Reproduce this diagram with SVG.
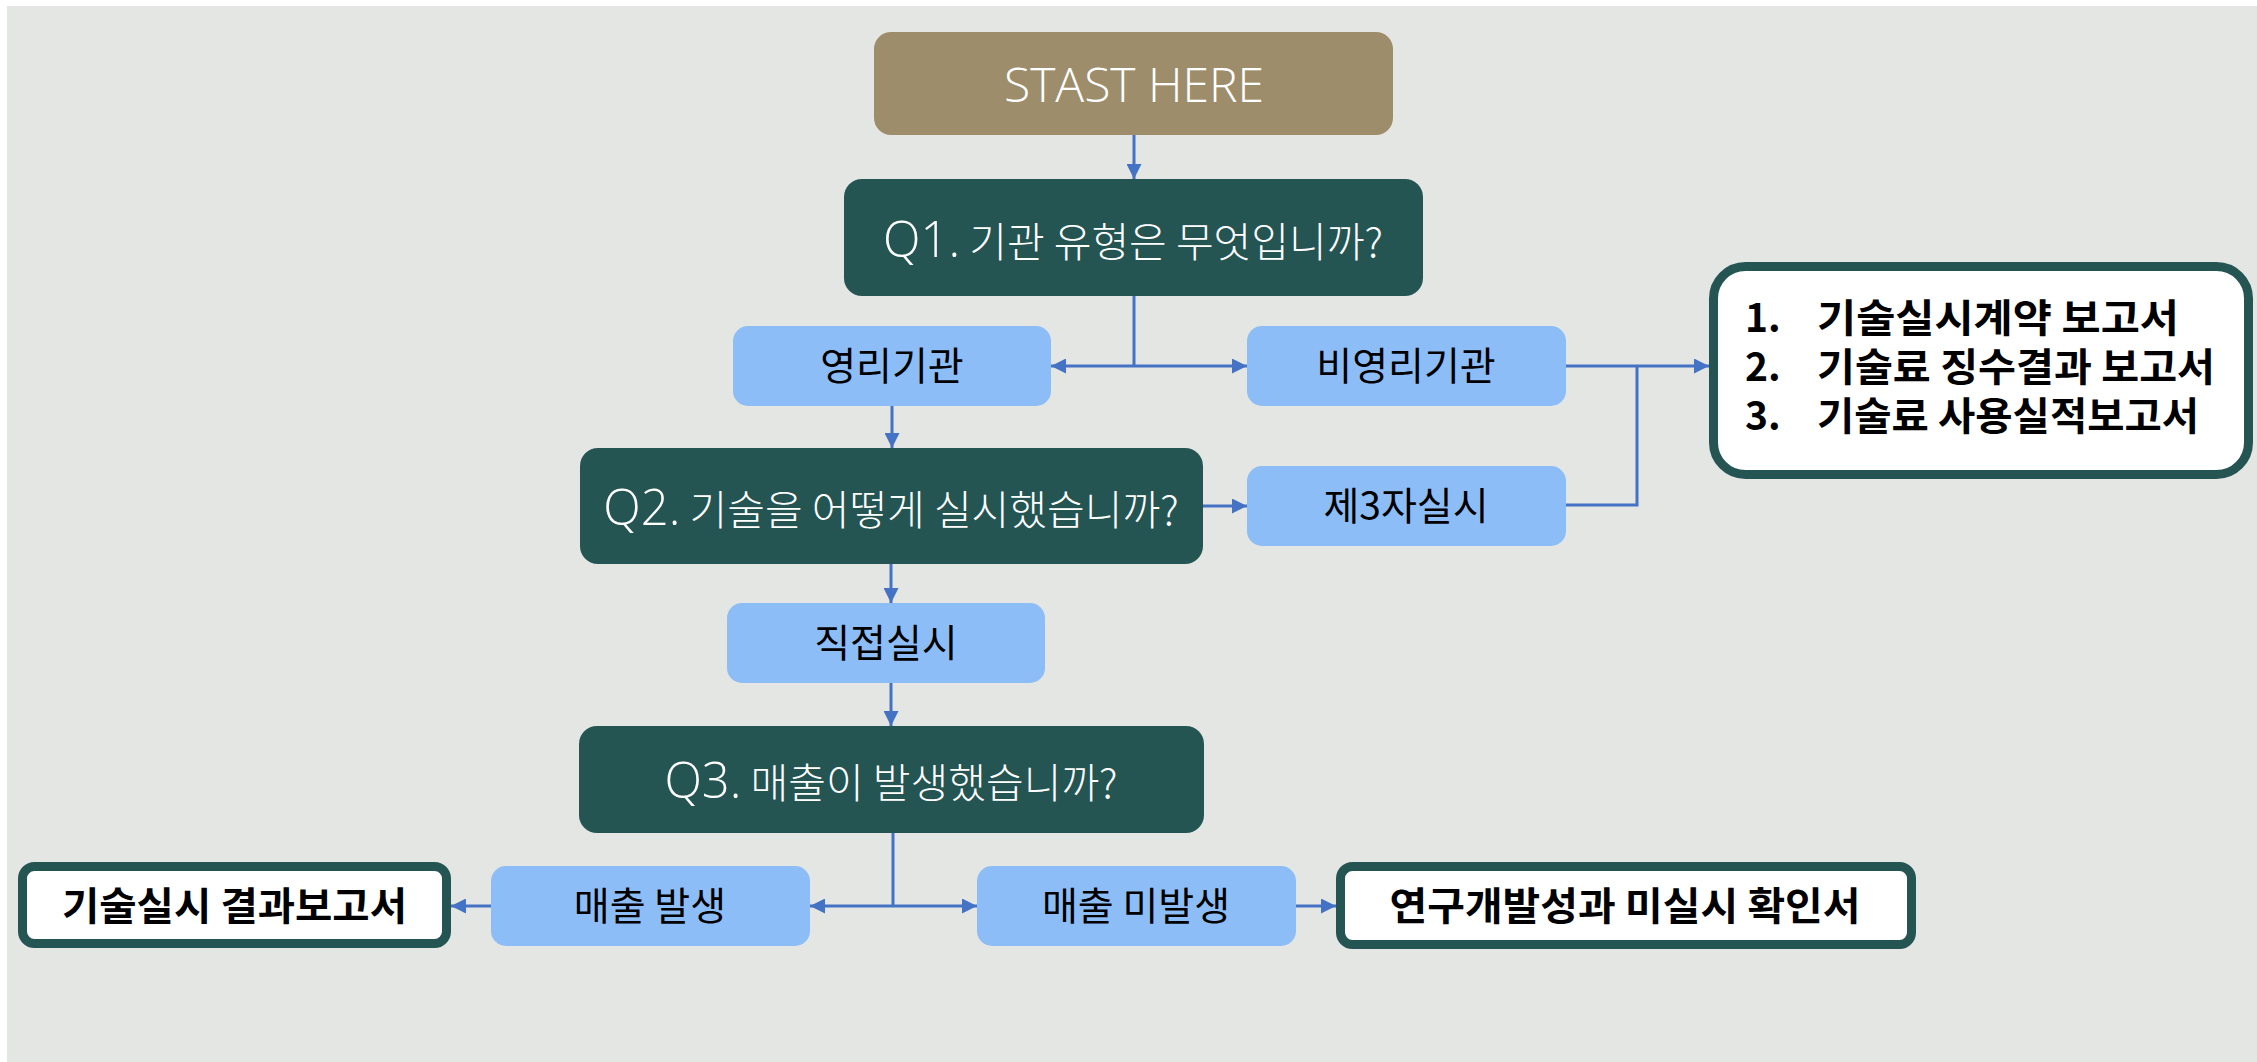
<svg xmlns="http://www.w3.org/2000/svg" width="2257" height="1062" viewBox="0 0 2257 1062">
<style>
.bg{fill:#E4E6E3}
.start{fill:#9E8D6B}
.q{fill:#245553}
.opt{fill:#8DBDF7}
.res{fill:#FFFFFF;stroke:#245553;stroke-width:9}
.wt{fill:#FFFFFF;font-family:"Open Sans","Noto Sans CJK KR",sans-serif;font-weight:300;text-anchor:middle}
.lat{font-size:49px}
.kr{font-family:"Noto Sans CJK KR",sans-serif;font-size:41px}
.ot{fill:#000000;font-family:"Noto Sans CJK KR",sans-serif;font-size:39px;text-anchor:middle}
.bt{fill:#000000;font-family:"Noto Sans CJK KR",sans-serif;font-size:39px;font-weight:700}
.con{fill:none;stroke:#4472C4;stroke-width:3}
</style>
<defs>
<marker id="ah" viewBox="0 0 15 15" refX="15" refY="7.5" markerWidth="15" markerHeight="15" markerUnits="userSpaceOnUse" orient="auto-start-reverse">
<path d="M0,0 L15,7.5 L0,15 z" fill="#4472C4"/>
</marker>
</defs>
<rect x="0" y="0" width="2257" height="1062" fill="#FFFFFF"/>
<rect class="bg" x="7" y="6" width="2250" height="1056"/>

<g id="connectors">
<path class="con" d="M1134,135 V179" marker-end="url(#ah)"/>
<path class="con" d="M1134,296 V366"/>
<path class="con" d="M1051,366 H1247" marker-start="url(#ah)" marker-end="url(#ah)"/>
<path class="con" d="M892,406 V448" marker-end="url(#ah)"/>
<path class="con" d="M1203,506 H1247" marker-end="url(#ah)"/>
<path class="con" d="M1566,366 H1709" marker-end="url(#ah)"/>
<path class="con" d="M1566,505 H1637 V366"/>
<path class="con" d="M891,564 V603" marker-end="url(#ah)"/>
<path class="con" d="M891,683 V726" marker-end="url(#ah)"/>
<path class="con" d="M893,833 V906"/>
<path class="con" d="M810,906 H977" marker-start="url(#ah)" marker-end="url(#ah)"/>
<path class="con" d="M491,906 H451" marker-end="url(#ah)"/>
<path class="con" d="M1296,906 H1336" marker-end="url(#ah)"/>
</g>

<g id="start">
<rect class="start" x="874" y="32" width="519" height="103" rx="17"/>
<text class="wt" x="1134" y="102" font-size="48">STAST HERE</text>
</g>

<g id="q1">
<rect class="q" x="844" y="179" width="579" height="117" rx="18"/>
<text class="wt" x="1133" y="257"><tspan class="lat">Q1.</tspan><tspan class="kr"> 기관 유형은 무엇입니까?</tspan></text>
</g>

<g id="profit">
<rect class="opt" x="733" y="326" width="318" height="80" rx="15"/>
<text class="ot" x="892" y="380">영리기관</text>
</g>

<g id="nonprofit">
<rect class="opt" x="1247" y="326" width="319" height="80" rx="15"/>
<text class="ot" x="1406" y="380">비영리기관</text>
</g>

<g id="q2">
<rect class="q" x="580" y="448" width="623" height="116" rx="18"/>
<text class="wt" x="891" y="525"><tspan class="lat">Q2.</tspan><tspan class="kr"> 기술을 어떻게 실시했습니까?</tspan></text>
</g>

<g id="third">
<rect class="opt" x="1247" y="466" width="319" height="80" rx="15"/>
<text class="ot" x="1406" y="520">제3자실시</text>
</g>

<g id="reports">
<rect class="res" x="1713.5" y="266.5" width="535" height="208" rx="32"/>
<text class="bt"><tspan x="1745" y="332">1.</tspan><tspan x="1817" y="332" textLength="362" lengthAdjust="spacingAndGlyphs">기술실시계약 보고서</tspan><tspan x="1745" y="381">2.</tspan><tspan x="1817" y="381" textLength="398" lengthAdjust="spacingAndGlyphs">기술료 징수결과 보고서</tspan><tspan x="1745" y="430">3.</tspan><tspan x="1817" y="430" textLength="382" lengthAdjust="spacingAndGlyphs">기술료 사용실적보고서</tspan></text>
</g>

<g id="direct">
<rect class="opt" x="727" y="603" width="318" height="80" rx="15"/>
<text class="ot" x="886" y="657">직접실시</text>
</g>

<g id="q3">
<rect class="q" x="579" y="726" width="625" height="107" rx="18"/>
<text class="wt" x="891" y="798"><tspan class="lat">Q3.</tspan><tspan class="kr"> 매출이 발생했습니까?</tspan></text>
</g>

<g id="sales">
<rect class="opt" x="491" y="866" width="319" height="80" rx="15"/>
<text class="ot" x="650" y="920">매출 발생</text>
</g>

<g id="nosales">
<rect class="opt" x="977" y="866" width="319" height="80" rx="15"/>
<text class="ot" x="1136" y="920">매출 미발생</text>
</g>

<g id="result-report">
<rect class="res" x="22.5" y="866.5" width="424" height="77" rx="12"/>
<text class="bt" x="234.5" y="920" text-anchor="middle" textLength="345" lengthAdjust="spacingAndGlyphs">기술실시 결과보고서</text>
</g>

<g id="rd-confirm">
<rect class="res" x="1340.5" y="866.5" width="571" height="78" rx="12"/>
<text class="bt" x="1625" y="920" text-anchor="middle" textLength="471" lengthAdjust="spacingAndGlyphs">연구개발성과 미실시 확인서</text>
</g>
</svg>
